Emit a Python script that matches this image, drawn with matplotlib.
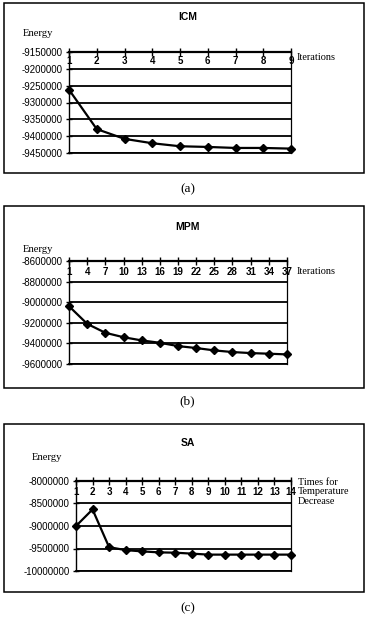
import matplotlib
matplotlib.use("Agg")
import matplotlib.pyplot as plt
from matplotlib.patches import Rectangle
from matplotlib.transforms import blended_transform_factory, offset_copy

# ---- data ----
icm_labels = ["1", "2", "3", "4", "5", "6", "7", "8", "9"]
icm_energy = [-9262000, -9379000, -9408000, -9421000, -9430000, -9432000, -9435000, -9435000, -9437000]
icm_yticks = [-9450000, -9400000, -9350000, -9300000, -9250000, -9200000, -9150000]

mpm_labels = ["1", "4", "7", "10", "13", "16", "19", "22", "25", "28", "31", "34", "37"]
mpm_energy = [-9039000, -9210000, -9297000, -9340000, -9371000, -9394000, -9426000,
              -9445000, -9468000, -9484000, -9494000, -9500000, -9507000]
mpm_yticks = [-9600000, -9400000, -9200000, -9000000, -8800000, -8600000]

sa_labels = ["1", "2", "3", "4", "5", "6", "7", "8", "9", "10", "11", "12", "13", "14"]
sa_energy = [-9000000, -8632000, -9470000, -9536000, -9564000, -9586000, -9593000,
             -9614000, -9636000, -9636000, -9636000, -9636000, -9636000, -9636000]
sa_yticks = [-10000000, -9500000, -9000000, -8500000, -8000000]

W, H = 371, 620
fig = plt.figure(figsize=(W / 100, H / 100), dpi=100)
fig.patch.set_facecolor("white")

SANS = "Liberation Sans"
SERIF = "Liberation Serif"


def px_rect(l, t, r, b):
    return [l / W, 1 - b / H, (r - l) / W, (b - t) / H]


def box(l, t, r, b):
    fig.patches.append(Rectangle((l / W, 1 - b / H), (r - l) / W, (b - t) / H,
                                 transform=fig.transFigure, fill=False,
                                 edgecolor="black", linewidth=1.1))


def panel(rect, labels, values, yticks, title, title_y, energy_xy, right_label, right_xy,
          box_px, tag, tag_y, lab_off):
    box(*box_px)
    ax = fig.add_axes(px_rect(*rect))
    x = list(range(len(labels)))
    ax.plot(x, values, color="black", linewidth=1.6, marker="D", markersize=4.2,
            markerfacecolor="black", markeredgecolor="black", zorder=5, clip_on=False)
    ax.set_xlim(0, len(labels) - 1)
    ax.set_ylim(min(yticks), max(yticks))
    ax.set_yticks(yticks)
    ax.set_yticklabels([f"{v:d}" for v in yticks], fontsize=7, family=SANS)
    ax.yaxis.grid(True, color="black", linewidth=1.3)
    ax.set_axisbelow(True)
    ax.set_xticks(x)
    ax.tick_params(axis="x", top=True, bottom=False, labeltop=False, labelbottom=False,
                   direction="inout", length=6, width=1)
    ax.tick_params(axis="y", direction="inout", length=5, width=1, pad=2, colors="black")
    ax.spines["top"].set_linewidth(1.6)
    ax.spines["left"].set_linewidth(1.0)
    ax.spines["right"].set_linewidth(0.9)
    ax.spines["bottom"].set_linewidth(1.3)
    tr = offset_copy(blended_transform_factory(ax.transData, ax.transAxes),
                     fig=fig, x=0, y=-lab_off, units="dots")
    for xi, lab in zip(x, labels):
        ax.text(xi, 1.0, lab, transform=tr, ha="center", va="center", fontsize=7,
                family=SANS, fontweight="bold", zorder=1)
    fig.text(187.5 / W, 1 - title_y / H, title, ha="center", va="center",
             fontsize=7.5, fontweight="bold", family=SANS)
    fig.text(energy_xy[0] / W, 1 - energy_xy[1] / H, "Energy", ha="left", va="center",
             fontsize=7.6, family=SERIF)
    fig.text(right_xy[0] / W, 1 - right_xy[1] / H, right_label, ha="left", va="center",
             fontsize=7.4, family=SERIF, linespacing=1.08)
    fig.text(187.5 / W, 1 - tag_y / H, tag, ha="center", va="center",
             fontsize=9.5, family=SERIF)
    return ax


panel((69, 52, 291, 153), icm_labels, icm_energy, icm_yticks, "ICM", 17,
      (23, 33), "Iterations", (297, 57), (4, 3, 364, 173), "(a)", 189, 9)
panel((69, 261, 287, 364), mpm_labels, mpm_energy, mpm_yticks, "MPM", 227,
      (23, 249), "Iterations", (297, 272), (4, 206, 364, 388), "(b)", 401, 11)
panel((76, 481, 291, 571), sa_labels, sa_energy, sa_yticks, "SA", 443,
      (32, 458), "Times for\nTemperature\nDecrease", (298, 492), (4, 424, 364, 592), "(c)", 608, 11)

fig.savefig("out.png", dpi=100, facecolor="white")
